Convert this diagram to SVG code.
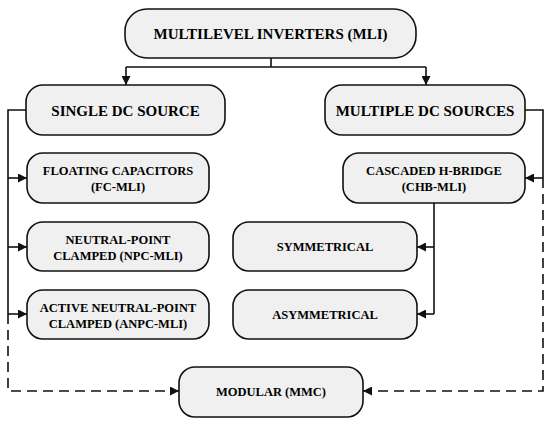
<svg xmlns="http://www.w3.org/2000/svg" width="550" height="422" viewBox="0 0 550 422">
<defs>
<marker id="ah" markerUnits="userSpaceOnUse" markerWidth="10" markerHeight="9" refX="9" refY="4.5" orient="auto">
<path d="M0,0 L9,4.5 L0,9 z" fill="#111"/>
</marker>
</defs>
<rect width="550" height="422" fill="#fff"/>
<g id="connectors" fill="none" stroke="#111" stroke-width="1.6">
<path d="M271 58 V67 M126 67 H426"/>
<path d="M126 67 V85" marker-end="url(#ah)"/>
<path d="M426 67 V85" marker-end="url(#ah)"/>
<path d="M26 110 H8 V314"/>
<path d="M8 178 H27" marker-end="url(#ah)"/>
<path d="M8 247 H27" marker-end="url(#ah)"/>
<path d="M8 314 H27" marker-end="url(#ah)"/>
<path d="M8 314 V391 H179" stroke-dasharray="10 6" marker-end="url(#ah)"/>
<path d="M525 110 H543 V178"/>
<path d="M543 178 H525" marker-end="url(#ah)"/>
<path d="M543 178 V391 H363" stroke-dasharray="10 6" marker-end="url(#ah)"/>
<path d="M434 203 V314"/>
<path d="M434 247 H417" marker-end="url(#ah)"/>
<path d="M434 314 H417" marker-end="url(#ah)"/>
</g>
<g id="mli">
<rect x="125" y="9" width="291" height="49" rx="22" fill="#f0f0f0" stroke="#111" stroke-width="1.6"/>
<text x="270.5" y="38.5" font-family="Liberation Serif" font-weight="bold" font-size="15" text-anchor="middle">MULTILEVEL INVERTERS (MLI)</text>
</g>
<g id="single">
<rect x="26" y="85" width="199" height="50" rx="17" fill="#f0f0f0" stroke="#111" stroke-width="1.6"/>
<text x="125.5" y="115.5" font-family="Liberation Serif" font-weight="bold" font-size="15" text-anchor="middle">SINGLE DC SOURCE</text>
</g>
<g id="multiple">
<rect x="325" y="85" width="200" height="50" rx="17" fill="#f0f0f0" stroke="#111" stroke-width="1.6"/>
<text x="425" y="115.5" font-family="Liberation Serif" font-weight="bold" font-size="15" text-anchor="middle">MULTIPLE DC SOURCES</text>
</g>
<g id="fc">
<rect x="27" y="153" width="182" height="50" rx="16" fill="#f0f0f0" stroke="#111" stroke-width="1.6"/>
<text x="118" y="175" font-family="Liberation Serif" font-weight="bold" font-size="12.5" text-anchor="middle">FLOATING CAPACITORS</text>
<text x="118" y="191" font-family="Liberation Serif" font-weight="bold" font-size="12.5" text-anchor="middle">(FC-MLI)</text>
</g>
<g id="npc">
<rect x="27" y="222" width="182" height="49" rx="16" fill="#f0f0f0" stroke="#111" stroke-width="1.6"/>
<text x="118" y="244" font-family="Liberation Serif" font-weight="bold" font-size="12.5" text-anchor="middle">NEUTRAL-POINT</text>
<text x="118" y="260" font-family="Liberation Serif" font-weight="bold" font-size="12.5" text-anchor="middle">CLAMPED (NPC-MLI)</text>
</g>
<g id="anpc">
<rect x="27" y="290" width="182" height="49" rx="16" fill="#f0f0f0" stroke="#111" stroke-width="1.6"/>
<text x="118" y="312" font-family="Liberation Serif" font-weight="bold" font-size="12.5" text-anchor="middle">ACTIVE NEUTRAL-POINT</text>
<text x="118" y="328" font-family="Liberation Serif" font-weight="bold" font-size="12.5" text-anchor="middle">CLAMPED (ANPC-MLI)</text>
</g>
<g id="chb">
<rect x="343" y="153" width="182" height="50" rx="16" fill="#f0f0f0" stroke="#111" stroke-width="1.6"/>
<text x="434" y="175" font-family="Liberation Serif" font-weight="bold" font-size="12.5" text-anchor="middle">CASCADED H-BRIDGE</text>
<text x="434" y="191" font-family="Liberation Serif" font-weight="bold" font-size="12.5" text-anchor="middle">(CHB-MLI)</text>
</g>
<g id="sym">
<rect x="233" y="222" width="184" height="49" rx="16" fill="#f0f0f0" stroke="#111" stroke-width="1.6"/>
<text x="325" y="251" font-family="Liberation Serif" font-weight="bold" font-size="12.5" text-anchor="middle">SYMMETRICAL</text>
</g>
<g id="asym">
<rect x="233" y="290" width="184" height="49" rx="16" fill="#f0f0f0" stroke="#111" stroke-width="1.6"/>
<text x="325" y="319" font-family="Liberation Serif" font-weight="bold" font-size="12.5" text-anchor="middle">ASYMMETRICAL</text>
</g>
<g id="mmc">
<rect x="179" y="367" width="184" height="50" rx="16" fill="#f0f0f0" stroke="#111" stroke-width="1.6"/>
<text x="271" y="396" font-family="Liberation Serif" font-weight="bold" font-size="12.5" text-anchor="middle">MODULAR (MMC)</text>
</g>
</svg>
